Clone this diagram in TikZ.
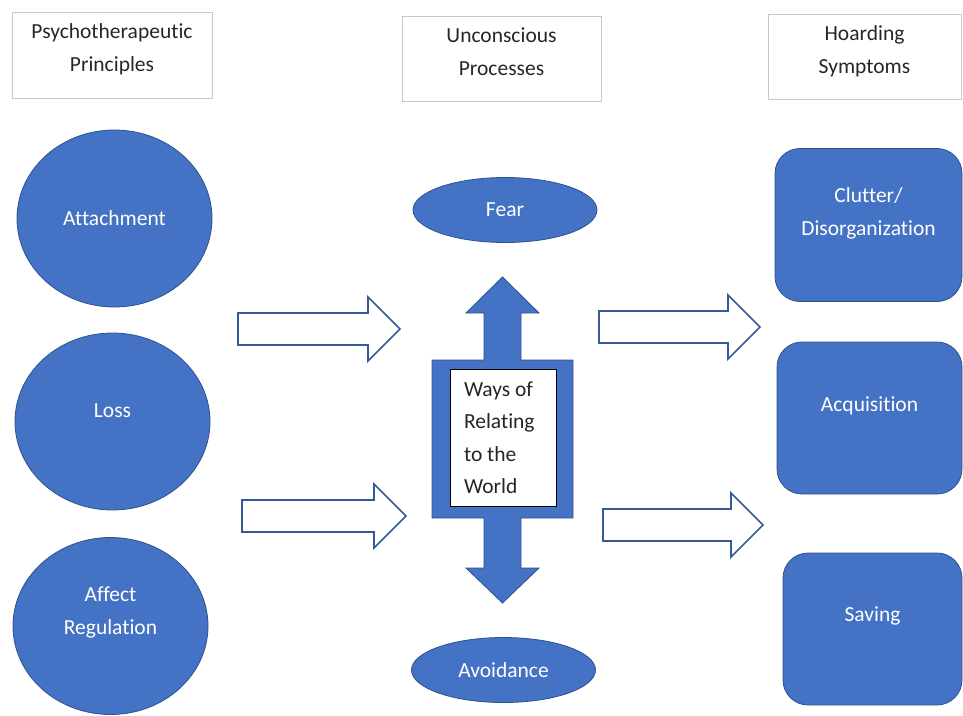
\documentclass[tikz,border=0pt]{standalone}
\usepackage{fontspec}
\setmainfont{Carlito}[Ligatures=NoCommon]
\usetikzlibrary{shapes.geometric}
\definecolor{fillblue}{HTML}{4472C4}
\definecolor{edgeblue}{HTML}{2F528F}
\definecolor{boxgray}{HTML}{C8C8C8}
\definecolor{inkgray}{HTML}{262626}

\begin{document}
\begin{tikzpicture}[x=1pt, y=-1pt, thick,
    every node/.style = {font=\fontsize{21.5}{33}\selectfont, inner sep=0pt},
    head/.style = {draw=boxgray, line width=1pt, minimum width=200pt, minimum height=86pt, align=center, text=inkgray, text depth=14pt},
    circ/.style = {draw=edgeblue, line width=0.8pt, fill=fillblue, ellipse, text=white, align=center, minimum width=195pt, minimum height=177pt},
    oval/.style = {circ, minimum width=184pt, minimum height=65pt},
    sym/.style = {draw=edgeblue, line width=0.8pt, fill=fillblue, rounded corners=25pt, text=white, align=center, minimum height=153pt},
    hollow/.style = {draw=edgeblue!75!fillblue, fill=white, line width=1.6pt, line join=miter},
    updown/.style = {draw=edgeblue, line width=0.8pt, fill=fillblue}]
    \useasboundingbox (0,0) rectangle (963,715);

    % column headings
    \node[head] (principles) at (112,55) {Psychotherapeutic\\Principles};
    \node[head, minimum width=199pt, minimum height=85pt] (processes) at (501.5,58.5) {Unconscious\\Processes};
    \node[head, minimum width=193pt, minimum height=85pt] (symptoms) at (864.5,56.5) {Hoarding\\Symptoms};

    % principles
    \node[circ] (attach) at (114.5,218.5) {Attachment};
    \node[circ, text depth=22pt] (loss) at (112.5,421.5) {Loss};
    \node[circ, text depth=30pt] (affect) at (110.5,626) {Affect\\Regulation};

    % unconscious processes
    \node[oval] (fear) at (505,210) {Fear};
    \node[oval] (avoid) at (503.5,670) {Avoidance};
    \draw[updown] (502.5,277) -- (539,313) -- (521,313) -- (521,360) -- (573,360) -- (573,518)
        -- (521,518) -- (521,568) -- (539,568) -- (502.5,603) -- (466,568) -- (484,568)
        -- (484,518) -- (432,518) -- (432,360) -- (484,360) -- (484,313) -- (466,313) -- cycle;
    \node[draw=black, fill=white, line width=1pt, minimum width=106pt, minimum height=137pt,
        text width=78pt, align=flush left, text=inkgray, font=\fontsize{21.5}{32.5}\selectfont] (world) at (503,437.5) {Ways of\\Relating\\to the\\World};

    % symptoms
    \node[sym, minimum width=187pt, text depth=26pt] (clutter) at (868.5,225) {Clutter/\\Disorganization};
    \node[sym, minimum width=185pt, minimum height=152pt, text depth=28pt] (acquire) at (869.5,418) {Acquisition};
    \node[sym, minimum width=179pt, minimum height=152pt, text depth=30pt] (saving) at (872.5,629) {Saving};

    % block arrows between the columns
    \foreach \a/\b/\c in {238/400/329, 242/406/516, 599/760/327, 603/763/525}
        \draw[hollow] (\a,\c-16) -- (\b-32,\c-16) -- (\b-32,\c-32) -- (\b,\c)
            -- (\b-32,\c+32) -- (\b-32,\c+16) -- (\a,\c+16) -- cycle;
\end{tikzpicture}
\end{document}
